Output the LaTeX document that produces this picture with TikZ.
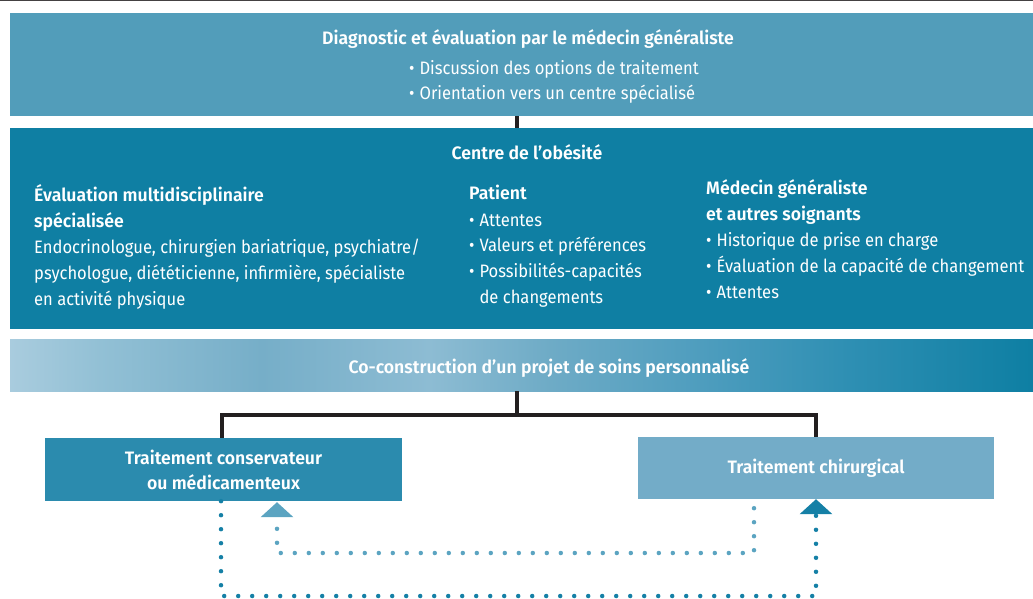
\documentclass[tikz,border=0pt]{standalone}
\usepackage{fontspec}
\setmainfont{Fira Sans}[FakeStretch=0.92,BoldFont={Fira Sans SemiBold},BoldFeatures={FakeStretch=0.98}]
\usetikzlibrary{arrows.meta}

\definecolor{topblue}{HTML}{529DBA}
\definecolor{centreblue}{HTML}{0F7FA3}
\definecolor{consblue}{HTML}{2B8BAE}
\definecolor{chirblue}{HTML}{73ACC8}
\definecolor{dotdark}{HTML}{1580A6}
\definecolor{dotlight}{HTML}{5BA4C1}
\definecolor{linkblack}{HTML}{231F20}
\definecolor{barA}{HTML}{A9CCDE}
\definecolor{barB}{HTML}{92C0D5}
\definecolor{barC}{HTML}{76AEC8}
\definecolor{barD}{HTML}{8DBCD3}
\definecolor{barE}{HTML}{6EABC6}
\definecolor{barF}{HTML}{4E9DBE}
\definecolor{barG}{HTML}{2E8FB3}
\definecolor{barH}{HTML}{0E7FA3}

\pgfdeclarehorizontalshading{cobar}{100bp}{color(0bp)=(barA); color(25bp)=(barA);
  color(29.4bp)=(barB); color(37.3bp)=(barC); color(45.5bp)=(barD); color(51.4bp)=(barE);
  color(58.8bp)=(barF); color(66bp)=(barG); color(75bp)=(barH); color(100bp)=(barH)}

\newcommand\puce{\textbullet\hspace{5pt}}

\begin{document}
\begin{tikzpicture}[x=1pt,y=-1pt,
    box node/.style={rectangle,inner sep=0pt,text=white},
    text node/.style={text=white,anchor=base west,inner sep=0pt,align=left,font=\fontsize{18}{25.6}\selectfont},
    title node/.style={text node,font=\fontsize{18}{25.6}\selectfont\bfseries},
    link line/.style={draw=linkblack,line width=4.5pt},
    loop line/.style={line width=4.5pt,line cap=round,dash pattern=on 0pt off 14pt,-{Triangle[width=32pt,length=15pt]}}]

  \useasboundingbox (0,0) rectangle (1033,599);
  \draw[linkblack!85,line width=1.5pt] (0,0.75) -- (1033,0.75);

  \node[box node,fill=topblue,minimum width=1023pt,minimum height=103pt] (diag) at (521.5,64.5) {};
  \node[box node,fill=centreblue,minimum width=1023pt,minimum height=201pt] (centre) at (521.5,228.5) {};
  \node[box node,shade,shading=cobar,minimum width=1023pt,minimum height=52pt] (bar) at (521.5,365) {};
  \node[box node,fill=consblue,minimum width=357pt,minimum height=63pt,align=center,
        font=\fontsize{18}{25}\selectfont\bfseries] (cons) at (223.5,469.5) {Traitement conservateur\\ou médicamenteux};
  \node[box node,fill=chirblue,minimum width=356pt,minimum height=62pt,
        font=\fontsize{18}{25}\selectfont\bfseries] (chir) at (816,468) {Traitement chirurgical};

  \node[title node,anchor=base] (diagT) at (528,45) {Diagnostic et évaluation par le médecin généraliste};
  \node[text node] (diagL) at (409,100) {\puce Discussion des options de traitement\\\puce Orientation vers un centre spécialisé};

  \node[title node,anchor=base] (centreT) at (527,159) {Centre de l’obésité};
  \node[title node] (evalT) at (34,227) {Évaluation multidisciplinaire\\spécialisée};
  \node[text node] (evalL) at (34,305) {Endocrinologue, chirurgien bariatrique, psychiatre/\\psychologue, diététicienne, infirmière, spécialiste\\en activité physique};
  \node[title node] (patT) at (469,199) {Patient};
  \node[text node] (patL) at (469,303) {\puce Attentes\\\puce Valeurs et préférences\\\puce Possibilités-capacités\\\phantom{\puce}de changements};
  \node[title node] (medT) at (706,220) {Médecin généraliste\\et autres soignants};
  \node[text node] (medL) at (706,298) {\puce Historique de prise en charge\\\puce Évaluation de la capacité de changement\\\puce Attentes};

  \node[title node,anchor=base] (barT) at (549,373) {Co-construction d’un projet de soins personnalisé};

  \coordinate (mid) at (517,0);
  \coordinate (forkL) at (222,415);
  \coordinate (forkR) at (816,415);
  \draw[link line] (mid |- diag.south) -- (mid |- centre.north);
  \draw[link line] (mid |- bar.south) -- (mid |- forkL);
  \draw[link line] (forkL |- cons.north) -- (forkL) -- (forkR) -- (forkR |- chir.north);

  \coordinate (loopL) at (221,596);
  \coordinate (loopR) at (816,596);
  \coordinate (backR) at (754,553);
  \coordinate (backL) at (277,553);
  \draw[loop line,dotdark] (cons.south -| loopL) -- (loopL) -- (loopR) -- (chir.south -| loopR);
  \draw[loop line,dotlight] ([yshift=-9pt]chir.south -| backR) -- (backR) -- (backL) -- ([yshift=-1pt]cons.south -| backL);
\end{tikzpicture}
\end{document}
